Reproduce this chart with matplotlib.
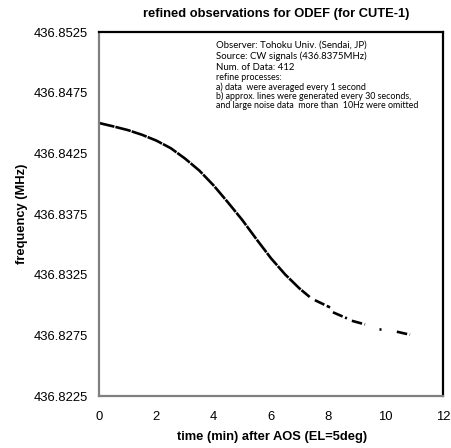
import numpy as np
import matplotlib
matplotlib.use("Agg")
import matplotlib.pyplot as plt

# ---- data (time in minutes after AOS, frequency in MHz)
main_time = [0.0, 0.5, 1.0, 1.5, 2.0, 2.5, 3.0, 3.5, 4.0, 4.5, 5.0, 5.5,
             6.0, 6.5, 7.0, 7.35]
main_freq = [436.84500, 436.84472, 436.84442, 436.84403, 436.84355, 436.84293,
             436.84207, 436.84108, 436.83985, 436.83845, 436.83700, 436.83540,
             436.83385, 436.83250, 436.83135, 436.83066]

# sparse tail segments (start, end)
tail_time = [(7.53, 8.06), (8.16, 8.65), (8.82, 9.28), (9.77, 9.83), (10.39, 10.85)]
tail_freq = [(436.8304, 436.8298), (436.8294, 436.8289), (436.8287, 436.8284),
             (436.8280, 436.8280), (436.8278, 436.82755)]

x_ticks = [0, 2, 4, 6, 8, 10, 12]
y_ticks = [436.8225, 436.8275, 436.8325, 436.8375, 436.8425, 436.8475, 436.8525]

title = "refined observations for ODEF (for CUTE-1)"
xlabel = "time (min) after AOS (EL=5deg)"
ylabel = "frequency (MHz)"
info_big = ["Observer: Tohoku Univ. (Sendai, JP)",
            "Source: CW signals (436.8375MHz)",
            "Num. of Data: 412"]
info_small = ["refine processes:",
              "a) data  were averaged every 1 second",
              "b) approx. lines were generated every 30 seconds,",
              "and large noise data  more than  10Hz were omitted"]

fig = plt.figure(figsize=(4.52, 4.48), dpi=100)
ax = fig.add_axes([99/452, 1 - 396/448, 344/452, 364/448])

ax.plot(main_time, main_freq, color="black", lw=1.9,
        linestyle=(0, (6, 0.4)), dash_capstyle="butt")
for t, f in zip(tail_time, tail_freq):
    ax.plot(t, f, color="black", lw=1.9, linestyle=(0, (4, 1.0)),
            solid_capstyle="butt", dash_capstyle="butt")

ax.set_xlim(0, 12)
ax.set_ylim(436.8225, 436.8525)
ax.set_xticks(x_ticks)
ax.set_yticks(y_ticks)
ax.set_xticklabels([str(v) for v in x_ticks])
ax.set_yticklabels([f"{v:.4f}" for v in y_ticks])

for lab in ax.get_xticklabels() + ax.get_yticklabels():
    lab.set_fontfamily("Liberation Sans")
    lab.set_fontsize(9.4)
ax.tick_params(axis="both", length=0)
ax.tick_params(axis="y", pad=8)
ax.tick_params(axis="x", pad=11)

ax.spines["left"].set_color("#808080")
ax.spines["bottom"].set_color("#808080")
ax.spines["top"].set_color("black")
ax.spines["right"].set_color("black")
for s in ax.spines.values():
    s.set_linewidth(1.6)

fig.text(276/452, 1 - 14/448, title, ha="center", va="center",
         fontfamily="Liberation Sans", fontweight="bold", fontsize=9.3)
fig.text(272/452, 1 - 437/448, xlabel, ha="center", va="center",
         fontfamily="Liberation Sans", fontweight="bold", fontsize=9.3)
fig.text(22/452, 1 - 214/448, ylabel, ha="center", va="center", rotation=90,
         fontfamily="Liberation Sans", fontweight="bold", fontsize=9.3)

y_big = [45, 56, 67]
for s, yy in zip(info_big, y_big):
    fig.text(216/452, 1 - yy/448, s, ha="left", va="center",
             fontfamily="Lato", fontsize=6.9)
y_small = [77.5, 87, 96.5, 105.5]
for s, yy in zip(info_small, y_small):
    fig.text(216/452, 1 - yy/448, s, ha="left", va="center",
             fontfamily="Lato", fontsize=6.4)

fig.savefig("out.png", dpi=100)
